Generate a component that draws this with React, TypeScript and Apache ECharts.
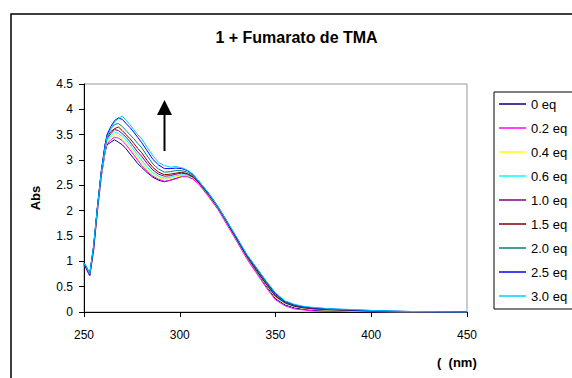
import React, { useEffect, useRef } from "react";
import * as echarts from "echarts";

const wavelengths = [250, 251, 253, 255, 257, 259, 261, 262, 264, 266, 268, 270, 272, 274, 276, 278, 280, 283, 286, 289, 292, 295, 298, 301, 304, 307, 310, 315, 320, 325, 330, 335, 340, 345, 350, 355, 360, 365, 370, 380, 390, 400, 410, 420, 435, 450];

const seriesNames = ["0 eq", "0.2 eq", "0.4 eq", "0.6 eq", "1.0 eq", "1.5 eq", "2.0 eq", "2.5 eq", "3.0 eq"];
const seriesColors = ["#000080", "#FF00FF", "#FFFF00", "#00FFFF", "#800080", "#800000", "#008080", "#0000FF", "#00CCFF"];

const abs0 = [0.93, 0.88, 0.72, 1.22, 2.0, 2.68, 3.15, 3.3, 3.35, 3.4, 3.35, 3.3, 3.22, 3.12, 3.03, 2.93, 2.86, 2.75, 2.66, 2.6, 2.57, 2.6, 2.64, 2.68, 2.68, 2.63, 2.53, 2.3, 2.04, 1.72, 1.4, 1.08, 0.8, 0.52, 0.26, 0.14, 0.08, 0.05, 0.03, 0.02, 0.01, 0.005, 0, 0, 0, 0];
const abs02 = [0.92, 0.86, 0.71, 1.2, 1.98, 2.66, 3.17, 3.32, 3.4, 3.45, 3.43, 3.38, 3.3, 3.2, 3.1, 3.0, 2.9, 2.78, 2.68, 2.62, 2.58, 2.6, 2.63, 2.67, 2.67, 2.62, 2.52, 2.28, 2.02, 1.7, 1.38, 1.05, 0.77, 0.49, 0.24, 0.12, 0.06, 0.04, 0.02, 0.01, 0.01, 0, 0, 0, 0, 0];
const abs04 = [0.94, 0.89, 0.73, 1.24, 2.02, 2.7, 3.2, 3.36, 3.45, 3.5, 3.48, 3.42, 3.35, 3.25, 3.15, 3.05, 2.95, 2.82, 2.72, 2.65, 2.62, 2.63, 2.66, 2.69, 2.69, 2.64, 2.54, 2.31, 2.05, 1.73, 1.41, 1.09, 0.81, 0.54, 0.29, 0.16, 0.1, 0.07, 0.05, 0.03, 0.02, 0.01, 0.005, 0, 0, 0];
const abs06 = [0.95, 0.9, 0.74, 1.26, 2.03, 2.72, 3.22, 3.38, 3.48, 3.55, 3.52, 3.47, 3.4, 3.3, 3.2, 3.1, 3.0, 2.86, 2.75, 2.68, 2.64, 2.66, 2.69, 2.71, 2.7, 2.65, 2.55, 2.32, 2.06, 1.74, 1.42, 1.1, 0.82, 0.55, 0.3, 0.17, 0.11, 0.08, 0.06, 0.04, 0.02, 0.01, 0.005, 0, 0, 0];
const abs10 = [0.93, 0.87, 0.73, 1.25, 2.04, 2.74, 3.25, 3.42, 3.52, 3.6, 3.58, 3.52, 3.45, 3.36, 3.26, 3.16, 3.08, 2.93, 2.8, 2.72, 2.68, 2.69, 2.72, 2.74, 2.72, 2.66, 2.55, 2.32, 2.06, 1.74, 1.42, 1.1, 0.82, 0.56, 0.31, 0.18, 0.11, 0.08, 0.06, 0.04, 0.03, 0.02, 0.01, 0, 0, 0];
const abs15 = [0.96, 0.9, 0.75, 1.28, 2.06, 2.76, 3.28, 3.45, 3.56, 3.62, 3.65, 3.58, 3.5, 3.42, 3.33, 3.23, 3.15, 2.99, 2.85, 2.76, 2.71, 2.72, 2.74, 2.76, 2.73, 2.67, 2.56, 2.33, 2.07, 1.75, 1.43, 1.11, 0.83, 0.57, 0.32, 0.19, 0.12, 0.09, 0.07, 0.05, 0.03, 0.02, 0.01, 0.005, 0, 0];
const abs20 = [0.97, 0.92, 0.76, 1.3, 2.08, 2.78, 3.3, 3.48, 3.62, 3.7, 3.72, 3.66, 3.58, 3.5, 3.42, 3.33, 3.25, 3.08, 2.92, 2.82, 2.76, 2.77, 2.79, 2.79, 2.76, 2.69, 2.57, 2.34, 2.07, 1.76, 1.44, 1.12, 0.85, 0.59, 0.34, 0.2, 0.13, 0.1, 0.08, 0.05, 0.04, 0.02, 0.01, 0.005, 0, 0];
const abs25 = [0.94, 0.88, 0.74, 1.28, 2.05, 2.76, 3.3, 3.5, 3.66, 3.78, 3.83, 3.8, 3.72, 3.64, 3.55, 3.45, 3.35, 3.18, 3.01, 2.9, 2.83, 2.83, 2.84, 2.83, 2.79, 2.71, 2.58, 2.35, 2.08, 1.77, 1.45, 1.13, 0.87, 0.61, 0.36, 0.21, 0.14, 0.1, 0.08, 0.06, 0.04, 0.03, 0.02, 0.01, 0, 0];
const abs30 = [0.95, 0.9, 0.75, 1.3, 2.05, 2.75, 3.25, 3.45, 3.62, 3.75, 3.82, 3.87, 3.78, 3.7, 3.6, 3.5, 3.43, 3.25, 3.08, 2.95, 2.89, 2.86, 2.87, 2.85, 2.8, 2.72, 2.58, 2.35, 2.08, 1.77, 1.46, 1.14, 0.88, 0.62, 0.38, 0.22, 0.15, 0.11, 0.09, 0.06, 0.05, 0.03, 0.02, 0.01, 0.005, 0];

const seriesValues = [abs0, abs02, abs04, abs06, abs10, abs15, abs20, abs25, abs30];

const titleText = "1 + Fumarato de TMA";
const yAxisTitle = "Abs";
const xAxisTitle = "(  (nm)";

const FONT = "'Liberation Sans', Arial, sans-serif";

export default function App() {
  const ref = useRef<HTMLDivElement>(null);

  useEffect(() => {
    if (!ref.current) return;
    const chart = echarts.init(ref.current, undefined, { renderer: "svg" });
    const series = seriesNames.map((name, i) => ({
      name,
      type: "line",
      data: wavelengths.map((w, j) => [w, seriesValues[i][j]]),
      symbol: "none",
      lineStyle: { color: seriesColors[i], width: 1 },
      itemStyle: { color: seriesColors[i] },
      silent: true,
    }));
    chart.setOption({
      animation: false,
      backgroundColor: "#ffffff",
      grid: {
        left: 84,
        right: 105,
        top: 84,
        bottom: 66,
        show: true,
        borderColor: "#999999",
        borderWidth: 1,
        backgroundColor: "transparent",
      },
      xAxis: {
        type: "value",
        min: 250,
        max: 450,
        interval: 50,
        axisLine: { show: true, onZero: false, lineStyle: { color: "#000", width: 1 } },
        axisTick: { show: true, length: 5, lineStyle: { color: "#000" } },
        splitLine: { show: false },
        axisLabel: { color: "#000", fontFamily: FONT, fontSize: 12, margin: 17 },
      },
      yAxis: {
        type: "value",
        min: 0,
        max: 4.5,
        interval: 0.5,
        axisLine: { show: true, lineStyle: { color: "#000", width: 1 } },
        axisTick: { show: true, length: 5, lineStyle: { color: "#000" } },
        splitLine: { show: false },
        axisLabel: { color: "#000", fontFamily: FONT, fontSize: 12, margin: 11 },
      },
      legend: {
        orient: "vertical",
        left: 494,
        top: 92,
        padding: [5, 40, 6, 5],
        icon: "rect",
        itemWidth: 27,
        itemHeight: 1.5,
        itemGap: 10,
        borderColor: "#000",
        borderWidth: 1,
        textStyle: { color: "#000", fontFamily: FONT, fontSize: 13, lineHeight: 14 },
        data: seriesNames,
      },
      graphic: [
        {
          type: "rect",
          shape: { x: 11, y: 14, width: 700, height: 500 },
          style: { fill: "none", stroke: "#000", lineWidth: 1.5 },
          silent: true,
        },
        {
          type: "text",
          x: 296.5,
          y: 37,
          style: {
            text: titleText,
            align: "center",
            verticalAlign: "middle",
            font: `bold 16px ${FONT}`,
            fill: "#000",
          },
        },
        {
          type: "text",
          x: 35,
          y: 198,
          rotation: Math.PI / 2,
          style: {
            text: yAxisTitle,
            align: "center",
            verticalAlign: "middle",
            font: `bold 13px ${FONT}`,
            fill: "#000",
          },
        },
        {
          type: "text",
          x: 437,
          y: 362,
          style: {
            text: xAxisTitle,
            align: "left",
            verticalAlign: "middle",
            font: `bold 13px ${FONT}`,
            fill: "#000",
          },
        },
        {
          type: "line",
          shape: { x1: 164.5, y1: 151, x2: 164.5, y2: 112 },
          style: { stroke: "#000", lineWidth: 2 },
        },
        {
          type: "polygon",
          shape: { points: [[157, 115], [172, 115], [164.5, 100]] },
          style: { fill: "#000" },
        },
      ],
      series,
    });
    return () => chart.dispose();
  }, []);

  return (
    <div
      ref={ref}
      style={{ position: "fixed", left: 0, top: 0, width: 572, height: 378, background: "#fff" }}
    />
  );
}
